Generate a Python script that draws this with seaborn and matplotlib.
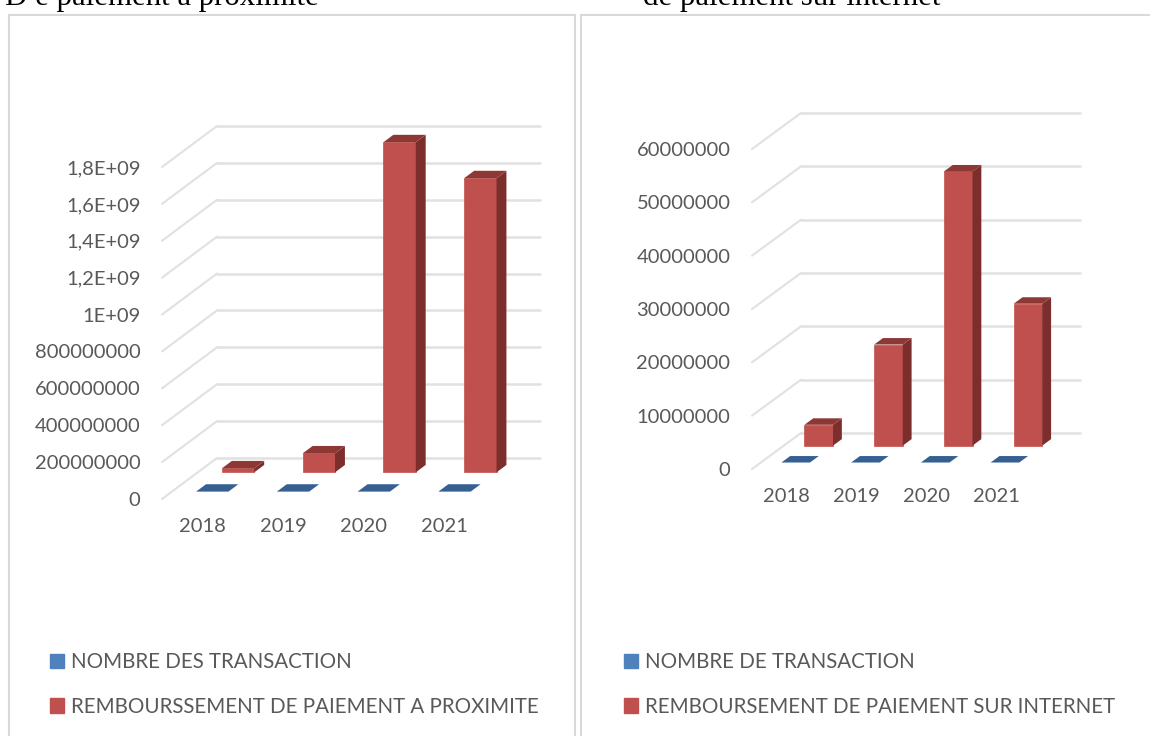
import matplotlib
matplotlib.use('Agg')
import matplotlib.pyplot as plt
from matplotlib.patches import Patch, Polygon, Rectangle
import pandas as pd
import seaborn as sns

W, H = 1150, 736

annees = ['2018', '2019', '2020', '2021']

transactions_prox = [0, 0, 0, 0]
remboursement_prox = [22000000, 103000000, 1790000000, 1595000000]
ticks_prox = [0, 200000000, 400000000, 600000000, 800000000, 1000000000,
              1200000000, 1400000000, 1600000000, 1800000000]
labels_prox = ['0', '200000000', '400000000', '600000000', '800000000', '1E+09',
               '1,2E+09', '1,4E+09', '1,6E+09', '1,8E+09']

transactions_net = [0, 0, 0, 0]
remboursement_net = [3900000, 18950000, 51400000, 26600000]
ticks_net = [0, 10000000, 20000000, 30000000, 40000000, 50000000, 60000000]
labels_net = ['0', '10000000', '20000000', '30000000', '40000000', '50000000', '60000000']

BLUE = '#4F81BD'
RED = '#C0504D'
GRID = '#E1E1E1'
TEXT = '#595959'

sns.set_theme(style='white')
plt.rcParams['font.family'] = ['Lato', 'DejaVu Sans']


def px_box(x0, y0, x1, y1):
    # pixels from top left -> figure fraction
    return [x0 / W, 1 - y1 / H, (x1 - x0) / W, (y1 - y0) / H]


def faces(ax, bars, front, depth, wall_dx, wall_dy, top_col, side_col):
    # move the bars to their row and add the top and side faces
    for bar in bars:
        x0 = bar.get_x() + front * wall_dx
        y0 = front * wall_dy
        bar.set_x(x0)
        bar.set_y(y0)
        bar.set_clip_on(False)
        x1 = x0 + bar.get_width()
        top = y0 + bar.get_height()
        dx = depth * wall_dx
        dy = depth * wall_dy
        ax.add_patch(Polygon([(x1, y0), (x1 + dx, y0 + dy), (x1 + dx, top + dy), (x1, top)],
                             color=side_col, lw=0, clip_on=False, zorder=3))
        ax.add_patch(Polygon([(x0, top), (x0 + dx, top + dy), (x1 + dx, top + dy), (x1, top)],
                             color=top_col, lw=0, clip_on=False, zorder=3))


def chart(box, frame, ticks, labels, blue, red, names, wall, bar_w, legend_xy):
    fig.add_artist(Rectangle((frame[0] / W, 1 - frame[3] / H), (frame[2] - frame[0]) / W,
                             (frame[3] - frame[1]) / H, transform=fig.transFigure,
                             fill=False, ec='#D9D9D9', lw=1.5))
    ax = fig.add_axes(px_box(*box))
    ax.patch.set_alpha(0)
    wall_dx = wall[0] / ((box[2] - box[0]) / 4)
    wall_dy = wall[1] * ticks[-1] / (box[3] - box[1])

    # back wall
    for t in ticks[1:] + [ticks[0]]:
        ax.plot([-0.5, -0.5 + wall_dx], [t, t + wall_dy], color=GRID, lw=1.5, zorder=0, clip_on=False)
        ax.plot([-0.5 + wall_dx, 3.5 + wall_dx], [t + wall_dy, t + wall_dy], color=GRID, lw=1.8,
                zorder=0, clip_on=False)

    df_red = pd.DataFrame({'annee': annees, 'valeur': red})
    df_blue = pd.DataFrame({'annee': annees, 'valeur': blue})

    sns.barplot(data=df_red, x='annee', y='valeur', color=RED, saturation=1, width=bar_w, ax=ax,
                zorder=2, edgecolor=RED, linewidth=0.5)
    faces(ax, ax.containers[-1], 0.65, 0.18, wall_dx, wall_dy, '#8E3835', '#7B2E2C')
    sns.barplot(data=df_blue, x='annee', y='valeur', color=BLUE, saturation=1, width=bar_w, ax=ax,
                zorder=2, linewidth=0)
    faces(ax, ax.containers[-1], 0.18, 0.18, wall_dx, wall_dy, '#376092', '#2F5480')

    ax.set_xlim(-0.5, 3.5)
    ax.set_ylim(ticks[0], ticks[-1])
    ax.set_yticks(ticks)
    ax.set_yticklabels(labels)
    ax.set_xlabel('')
    ax.set_ylabel('')
    ax.tick_params(axis='y', length=0, pad=15.5, labelsize=14.5, labelcolor=TEXT)
    ax.tick_params(axis='x', length=0, pad=13.5, labelsize=14.5, labelcolor=TEXT)
    sns.despine(ax=ax, left=True, bottom=True)

    handles = [Patch(color=BLUE, label=names[0]), Patch(color=RED, label=names[1])]
    ax.legend(handles=handles, loc='upper left', frameon=False, fontsize=14.8, labelcolor=TEXT,
              bbox_to_anchor=(legend_xy[0] / W, 1 - legend_xy[1] / H), bbox_transform=fig.transFigure,
              borderaxespad=0, borderpad=0, handlelength=0.7, handleheight=0.7,
              handletextpad=0.33, labelspacing=1.2)


fig = plt.figure(figsize=(W / 100, H / 100), dpi=100)

chart((162, 167, 485, 499), (9, 15, 575, 760), ticks_prox, labels_prox,
      transactions_prox, remboursement_prox,
      ['NOMBRE DES TRANSACTION', 'REMBOURSSEMENT DE PAIEMENT A PROXIMITE'],
      (55, 41), 0.4, (50, 652))
chart((752, 149, 1031, 469), (581, 15, 1170, 760), ticks_net, labels_net,
      transactions_net, remboursement_net,
      ['NOMBRE DE TRANSACTION', 'REMBOURSEMENT DE PAIEMENT SUR INTERNET'],
      (49, 36), 0.41, (624, 652))

# cut off document text above the charts, as in the source page
fig.text(5 / W, 1 - 5 / H, 'D e paiement à proximité', family='Liberation Serif', fontsize=22.2, color='black')
fig.text(643 / W, 1 - 5 / H, 'de paiement sur internet', family='Liberation Serif', fontsize=22.2, color='black')

fig.savefig('out.png', dpi=100, facecolor='white')
